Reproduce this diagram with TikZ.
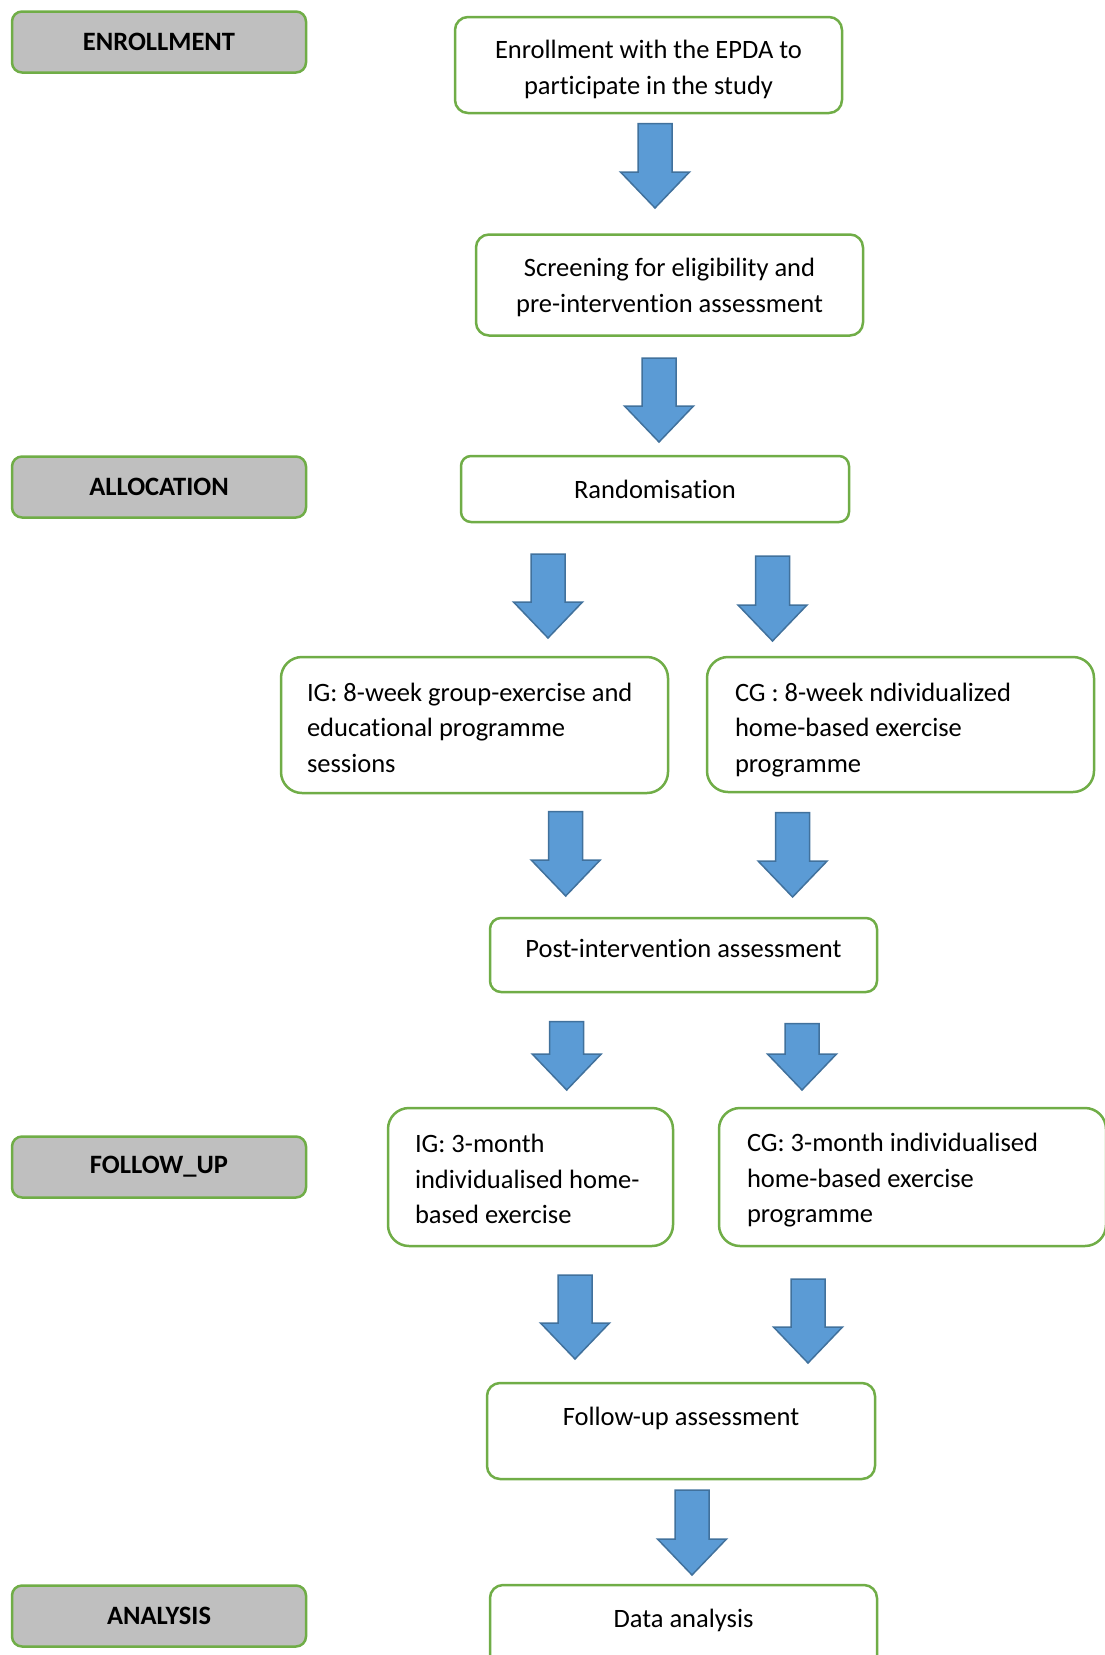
\documentclass[tikz,border=0pt]{standalone}
\usepackage{fontspec}
\setmainfont{Carlito}[Ligatures=CommonOff]
\frenchspacing
\definecolor{boxgreen}{HTML}{70AD47}
\definecolor{labelgray}{HTML}{BFBFBF}
\definecolor{arrowblue}{HTML}{5B9BD5}
\definecolor{arrowedge}{HTML}{41719C}
\tikzset{
  stagebox/.style={draw=boxgreen, fill=white, line width=2.5pt, rounded corners=13pt,
    font=\fontsize{26.5}{35.5}\selectfont, align=center, inner sep=0pt},
  phasebox/.style={stagebox, fill=labelgray, font=\fontsize{26.5}{35.5}\selectfont\bfseries,
    minimum width=294pt, minimum height=61pt, rounded corners=10pt},
  % height of first line, depth of last line
  linebox/.style 2 args={execute at begin node={\rule{0pt}{#1}},
    execute at end node={\rule[-#2]{0pt}{0pt}}},
}
% block arrow: x, top of shaft, tip
\newcommand{\flowarrow}[3]{%
  \draw[fill=arrowblue, draw=arrowedge, line width=1.5pt, line join=miter]
    ({#1-17},#2) -- ({#1-17},{#3-36}) -- ({#1-34.5},{#3-36}) -- (#1,#3)
    -- ({#1+34.5},{#3-36}) -- ({#1+17},{#3-36}) -- ({#1+17},#2) -- cycle;}
\begin{document}
\begin{tikzpicture}[x=1pt, y=-1pt]

  % Page
  \useasboundingbox (0,0) rectangle (1104,1655);

  % Phase labels
  \node[phasebox] (enrollment) at (159,42)   {ENROLLMENT};
  \node[phasebox] (allocation) at (159,487)  {ALLOCATION};
  \node[phasebox] (followup)   at (159,1167) {FOLLOW\_UP};
  \node[phasebox] (analysis)   at (159,1616) {ANALYSIS};

  % Main steps
  \node[stagebox, linebox={30.9pt}{8pt}, minimum width=387pt, minimum height=96pt,
        text width=360pt, align=flush center] (epda) at (648.5,65)
    {Enrollment with the EPDA to\\participate in the study};
  \node[stagebox, linebox={26.7pt}{8pt}, minimum width=387pt, minimum height=101pt,
        text width=360pt, align=flush center] (screen) at (669.5,285)
    {Screening for eligibility and\\pre-intervention assessment};
  \node[stagebox, minimum width=388pt, minimum height=66pt, rounded corners=10pt] (random) at (655,489)
    {Randomisation};

  % Intervention
  \node[stagebox, linebox={31.8pt}{8pt}, minimum width=387pt, minimum height=136pt, rounded corners=21pt,
        text width=335pt, align=flush left] (igprog) at (474.5,725)
    {IG: 8-week group-exercise and\\educational programme\\sessions};
  \node[stagebox, linebox={32pt}{8pt}, minimum width=387pt, minimum height=135pt, rounded corners=21pt,
        text width=331pt, align=flush left] (cgprog) at (900.5,724.5)
    {CG : 8-week ndividualized\\home-based exercise\\programme};

  \node[stagebox, minimum width=387pt, minimum height=74pt, rounded corners=11pt,
        text height=19pt, text depth=15pt] (post) at (683.5,955)
    {Post-intervention assessment};

  % Follow-up
  \node[stagebox, linebox={30.6pt}{8pt}, minimum width=285pt, minimum height=138pt, rounded corners=21pt,
        text width=231pt, align=flush left] (igfollow) at (530.5,1177)
    {IG: 3-month\\individualised home-\\based exercise};
  \node[stagebox, linebox={28.4pt}{8pt}, minimum width=387pt, minimum height=138pt, rounded corners=21pt,
        text width=331pt, align=flush left] (cgfollow) at (912.5,1177)
    {CG: 3-month individualised\\home-based exercise\\programme};

  \node[stagebox, minimum width=388pt, minimum height=96pt,
        text height=42pt, text depth=54pt] (fuassess) at (681,1431)
    {Follow-up assessment};
  \node[stagebox, minimum width=387pt, minimum height=96pt,
        text height=42pt, text depth=54pt] (dataan) at (683.5,1633)
    {Data analysis};

  % Block arrows
  \flowarrow{655}{123.5}{208}
  \flowarrow{659}{358}{442}
  \flowarrow{548}{554}{638}
  \flowarrow{772.5}{556}{641}
  \flowarrow{565.7}{811.6}{896}
  \flowarrow{792.6}{812.7}{897}
  \flowarrow{566.7}{1021.6}{1090}
  \flowarrow{802}{1023.7}{1090}
  \flowarrow{575}{1275}{1359}
  \flowarrow{808}{1279}{1363}
  \flowarrow{692}{1490}{1575}

\end{tikzpicture}
\end{document}
